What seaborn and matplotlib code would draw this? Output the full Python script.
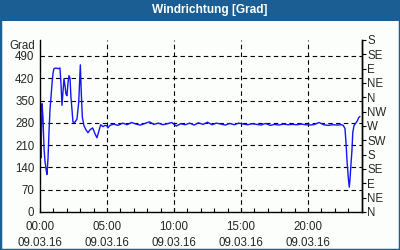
import matplotlib
matplotlib.use("Agg")
import matplotlib.pyplot as plt
import seaborn as sns
import pandas as pd
from matplotlib.patches import Rectangle
from matplotlib.ticker import MultipleLocator

hours = [0.04, 0.07, 0.15, 0.22, 0.30, 0.37, 0.45, 0.52, 0.60, 0.67, 0.75, 0.82, 0.90, 0.97,
         1.04, 1.19, 1.34, 1.49, 1.57, 1.64, 1.72, 1.79, 1.87, 1.94, 2.01, 2.09, 2.16, 2.24,
         2.31, 2.39, 2.46, 2.61, 2.76, 2.89, 3.01, 3.08, 3.16, 3.28, 3.43, 3.58, 3.73, 3.93,
         4.10, 4.25, 4.40, 4.53, 4.70, 4.85, 5.00, 5.07, 5.22, 5.37,
         5.5, 5.83, 6.17, 6.5, 6.83, 7.17, 7.5, 7.83, 8.17, 8.5, 8.83, 9.17, 9.5, 9.83,
         10.17, 10.5, 10.83, 11.17, 11.5, 11.83, 12.17, 12.5, 12.83, 13.17, 13.5, 13.83,
         14.17, 14.5, 14.83, 15.17, 15.5, 15.83, 16.17, 16.5, 16.83, 17.17, 17.5, 17.83,
         18.17, 18.5, 18.83, 19.17, 19.5, 19.83, 20.17, 20.5, 20.83, 21.17, 21.5, 21.83,
         22.17, 22.5,
         22.63, 22.76, 22.84, 22.91, 23.01, 23.08, 23.13, 23.21, 23.28, 23.34, 23.43, 23.58,
         23.68, 23.78, 23.88]

direction = [283, 170, 340, 298, 200, 160, 135, 118, 170, 250, 325, 360, 405, 435,
             450, 452, 450, 452, 400, 335, 380, 418, 395, 370, 365, 405, 428, 420,
             360, 320, 282, 282, 292, 345, 462, 375, 298, 271, 258, 249, 258, 264,
             246, 233, 255, 274, 268, 272, 270, 264, 272, 274,
             276, 272, 279, 274, 281, 276, 273, 278, 283, 275, 279, 274, 277, 281,
             270, 277, 274, 279, 273, 280, 275, 282, 274, 279, 276, 273,
             278, 274, 279, 276, 274, 277, 275, 273, 278, 272, 275, 273,
             276, 274, 275, 274, 276, 274, 273, 275, 281, 274, 272, 274,
             273, 274,
             272, 262, 215, 162, 106, 78, 100, 152, 193, 249, 271, 280,
             286, 296, 300]

x_ticks = [0, 5, 10, 15, 20]
x_labels = ["00:00\n09.03.16", "05:00\n09.03.16", "10:00\n09.03.16",
            "15:00\n09.03.16", "20:00\n09.03.16"]
y_ticks = [0, 70, 140, 210, 280, 350, 420, 490]
compass_ticks = [0, 45, 90, 135, 180, 225, 270, 315, 360, 405, 450, 495, 540]
compass_labels = ["N", "NE", "E", "SE", "S", "SW", "W", "NW", "N", "NE", "E", "SE", "S"]
title = "Windrichtung [Grad]"

sns.set_style("white")
plt.rcParams["font.family"] = ["Liberation Sans", "DejaVu Sans"]
plt.rcParams["font.size"] = 8

blue = "#1b5e93"
bg = "#fcfefc"

fig = plt.figure(figsize=(4, 2.5), dpi=100, facecolor=bg)
# border + title band
fig.patches.append(Rectangle((0, 0), 1, 1, transform=fig.transFigure,
                             facecolor="none", edgecolor=blue, linewidth=2.5, zorder=0))
fig.patches.append(Rectangle((0, 1 - 20.5 / 250), 1, 20.5 / 250, transform=fig.transFigure,
                             facecolor=blue, edgecolor="none", zorder=1))
fig.text(209.5 / 400, 1 - 10.5 / 250, title, color="white", fontweight="bold",
         fontsize=8.6, ha="center", va="center")

ax = fig.add_axes([40 / 400, 1 - 212 / 250, 321.6 / 400, 172 / 250])
ax.set_facecolor(bg)
df = pd.DataFrame({"h": hours, "deg": direction})
sns.lineplot(data=df, x="h", y="deg", ax=ax, color="#1414f5", linewidth=1.0)

ax.set_xlim(0, 24)
ax.set_ylim(0, 540)
ax.set_xlabel("")
ax.set_ylabel("")
ax.set_xticks(x_ticks)
ax.set_xticklabels(x_labels, linespacing=1.4)
ax.xaxis.set_minor_locator(MultipleLocator(1))
ax.set_yticks(y_ticks)
ax.tick_params(axis="x", which="both", direction="in", length=3, width=0.8,
               color="black", pad=6.5, labelsize=8.3, bottom=True)
ax.tick_params(axis="y", length=0, pad=4, labelsize=8.3)

for sp in ["left", "bottom", "right"]:
    ax.spines[sp].set_visible(True)
    ax.spines[sp].set_color("black")
    ax.spines[sp].set_linewidth(1.0)
ax.spines["top"].set_visible(False)

ax.grid(False)
for v in y_ticks[1:]:
    ax.axhline(v, color="black", linewidth=0.8, linestyle=(0, (4, 3)), zorder=0.5)
for v in x_ticks[1:]:
    ax.axvline(v, color="black", linewidth=0.8, linestyle=(0, (4, 3)), zorder=0.5)

ax2 = ax.twinx()
ax2.set_ylim(0, 540)
ax2.set_yticks(compass_ticks)
ax2.set_yticklabels(compass_labels)
ax2.tick_params(axis="y", direction="out", length=3, width=0.8, color="black",
                pad=1, labelsize=8.3, right=True)
for sp in ["left", "bottom", "top"]:
    ax2.spines[sp].set_visible(False)
ax2.spines["right"].set_color("black")
ax2.spines["right"].set_linewidth(1.0)
ax2.grid(False)

ax.text(-0.015, 1 - 6 / 172, "Grad", transform=ax.transAxes, ha="right", va="center",
        fontsize=8.3)

fig.savefig("out.png", dpi=100, facecolor=bg)
